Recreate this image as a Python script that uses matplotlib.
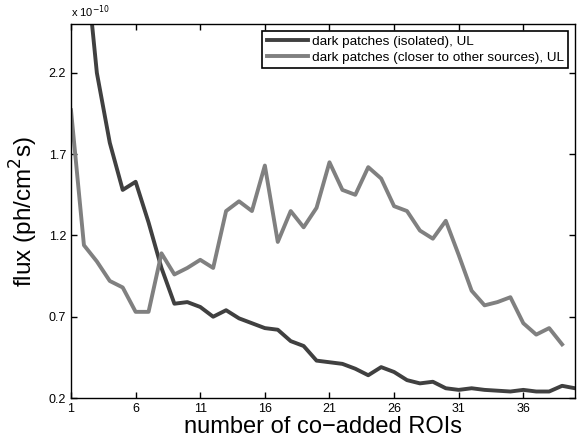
import matplotlib
matplotlib.use('Agg')
import matplotlib.pyplot as plt

# flux in units of 1e-10 ph/cm^2/s
rois = list(range(1, 41))
isolated = [3.8, 3.0, 2.2, 1.77, 1.48, 1.53, 1.28, 1.0, 0.78, 0.79,
            0.76, 0.70, 0.74, 0.69, 0.66, 0.63, 0.62, 0.55, 0.52, 0.43,
            0.42, 0.41, 0.38, 0.34, 0.39, 0.36, 0.31, 0.29, 0.30, 0.26,
            0.25, 0.26, 0.25, 0.245, 0.24, 0.25, 0.24, 0.24, 0.275, 0.26]
rois_closer = list(range(1, 40))
closer = [1.97, 1.14, 1.04, 0.92, 0.88, 0.73, 0.73, 1.09, 0.96, 1.0,
          1.05, 1.0, 1.35, 1.41, 1.35, 1.63, 1.16, 1.35, 1.25, 1.37,
          1.65, 1.48, 1.45, 1.62, 1.55, 1.38, 1.35, 1.23, 1.18, 1.29,
          1.08, 0.86, 0.77, 0.79, 0.82, 0.66, 0.59, 0.63, 0.53]
yticks = [0.2, 0.7, 1.2, 1.7, 2.2]
xticks = [1, 6, 11, 16, 21, 26, 31, 36]

plt.rcParams['font.family'] = ['Liberation Sans', 'DejaVu Sans']

fig = plt.figure(figsize=(5.84, 4.46), dpi=100)
ax = fig.add_axes([0.1216, 0.1076, 0.863, 0.8384])
ax.plot(rois, isolated, color='#404040', linewidth=2.8,
        label='dark patches (isolated), UL')
ax.plot(rois_closer, closer, color='#808080', linewidth=2.8,
        label='dark patches (closer to other sources), UL')
ax.set_xlim(1, 40)
ax.set_ylim(0.2, 2.5)
ax.set_xticks(xticks)
ax.set_yticks(yticks)
ax.set_yticklabels([str(v) for v in yticks])
ax.tick_params(direction='in', length=4, width=1, labelsize=9,
               top=True, right=True)
for s in ['top', 'bottom', 'left', 'right']:
    ax.spines[s].set_linewidth(1.0)
ax.set_xlabel('number of co\u2212added ROIs', fontsize=17, labelpad=1)
ax.set_ylabel('flux (ph/cm$^2$s)', fontsize=17.5, labelpad=6)
ax.text(0.0, 1.012, 'x 10$^{-10}$', transform=ax.transAxes, fontsize=8,
        ha='left', va='bottom')
leg = ax.legend(loc='upper right', fontsize=9.7, fancybox=False,
                framealpha=1, edgecolor='black', borderaxespad=0.5,
                handlelength=3.0, handletextpad=0.3, borderpad=0.35,
                labelspacing=0.25)
leg.get_frame().set_linewidth(1.2)

fig.savefig('out.png', dpi=100)
